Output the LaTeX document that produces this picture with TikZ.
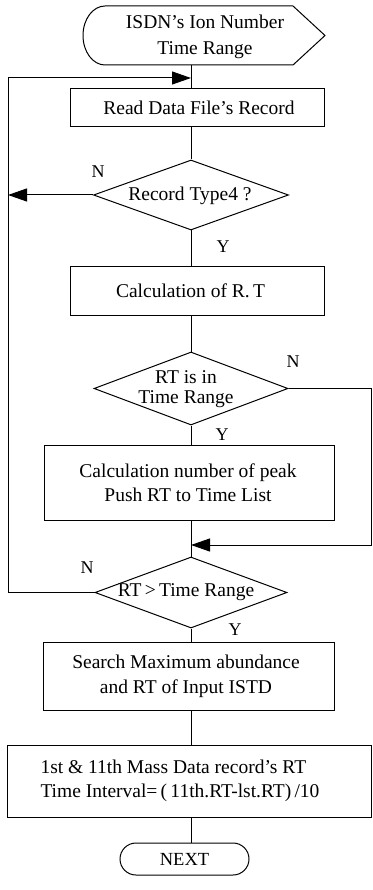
\documentclass[tikz,border=0pt]{standalone}
\usepackage{fontspec}
\setmainfont{Liberation Serif}
\usetikzlibrary{shapes.geometric,arrows.meta}
\begin{document}
\begin{tikzpicture}[x=1pt,y=-1pt,line width=1pt,
  procbox/.style={draw,rectangle,inner sep=0pt},
  decision/.style={draw,diamond,inner sep=0pt,aspect=1},
  txt/.style={font=\fontsize{19.5}{24}\selectfont,align=center,inner sep=0pt},
  yn/.style={font=\fontsize{18}{20}\selectfont,inner sep=0pt},
  flow/.style={-{Triangle[length=19pt,width=13pt]}}]
\useasboundingbox (0,0) rectangle (372,890);
\coordinate (ax) at (191,0);
% start terminal
\draw (105,6) -- (293,6) -- (325,35.5) -- (293,65) -- (105,65)
  arc[start angle=90,end angle=270,x radius=22,y radius=29.5];
\coordinate (s0) at (191,65);
\node[txt,font=\fontsize{19.5}{26}\selectfont] (t0) at (205,37) {ISDN's Ion Number\\Time Range};
% boxes
\node[procbox,minimum width=254pt,minimum height=38pt] (r1) at (197,108) {};
\node[txt] (t1) at (199,108) {Read Data File's Record};
\node[decision,minimum width=195pt,minimum height=70pt] (d1) at (191,195) {};
\node[txt] (td1) at (190,196) {Record Type4 ?};
\node[procbox,minimum width=254pt,minimum height=48pt] (r2) at (197,291) {};
\node[txt] (t2) at (190.5,291) {Calculation of R.\,T};
\node[decision,minimum width=194pt,minimum height=73pt] (d2) at (191,388.5) {};
\node[txt,font=\fontsize{19.5}{20}\selectfont] (td2) at (186,389) {RT is in\\Time Range};
\node[procbox,minimum width=290pt,minimum height=75pt] (r3) at (189,482.5) {};
\node[txt] (t3) at (188,482.5) {Calculation number of peak\\Push RT to Time List};
\node[decision,minimum width=192pt,minimum height=71pt] (d3) at (191,592.5) {};
\node[txt] (td3) at (186,592) {RT\,>\,Time Range};
\node[procbox,minimum width=291pt,minimum height=68pt] (r4) at (188.5,676) {};
\node[txt,font=\fontsize{19.5}{25}\selectfont] (t4) at (186,676) {Search Maximum abundance\\and RT of Input ISTD};
\node[procbox,minimum width=364pt,minimum height=72pt] (r5) at (189,781) {};
\node[txt,align=left,anchor=west] (t5) at (40,781) {1st \& 11th Mass Data record's RT\\Time Interval=\,(\,11th.RT-lst.RT)\,/10};
\node[draw,rounded corners=16pt,minimum width=129pt,minimum height=32pt,inner sep=0pt,font=\fontsize{18.5}{20}\selectfont] (next) at (184.5,859) {NEXT};
% labels
\node[yn] (n1) at (98,172) {N};
\node[yn] (y1) at (223,247) {Y};
\node[yn] (n2) at (293,362) {N};
\node[yn] (y2) at (222,435) {Y};
\node[yn] (n3) at (87,568) {N};
\node[yn] (y3) at (235,630) {Y};
% connectors
\coordinate (lt) at (8,78);
\coordinate (lb) at (8,592.5);
\coordinate (rt) at (371,545);
\draw (s0) -- (ax |- r1.north);
\draw (ax |- r1.south) -- (d1.north);
\draw (d1.south) -- (ax |- r2.north);
\draw (ax |- r2.south) -- (d2.north);
\draw (d2.south) -- (ax |- r3.north);
\draw (ax |- r3.south) -- (d3.north);
\draw (d3.south) -- (ax |- r4.north);
\draw (ax |- r4.south) -- (ax |- r5.north);
\draw (ax |- r5.south) -- (ax |- next.north);
\draw[flow] (d1.west) -- (d1.west -| lt);
\draw[flow] (d3.west) -- (lb) -- (lt) -- (ax |- lt);
\draw[flow] (d2.east) -- (d2.east -| rt) -- (rt) -- (ax |- rt);
\end{tikzpicture}
\end{document}
